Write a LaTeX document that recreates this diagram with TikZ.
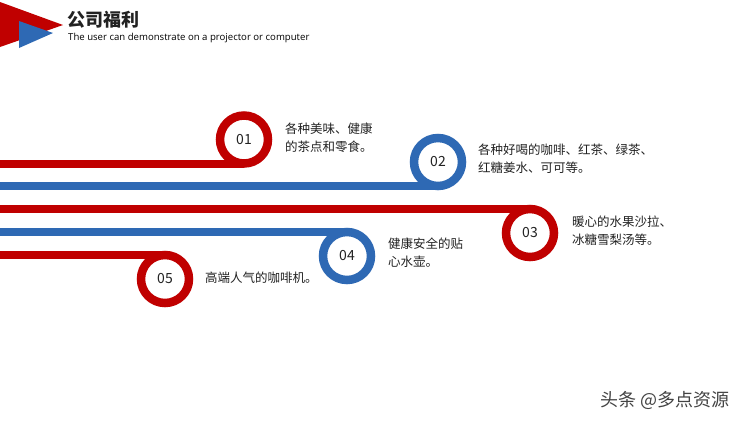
\documentclass[tikz,border=0pt]{standalone}
\usepackage{fontspec}
\newfontfamily\cjk{Noto Sans CJK SC}
\newfontfamily\latinsans{Open Sans}
\definecolor{myred}{HTML}{C00000}
\definecolor{myblue}{HTML}{2E69B4}
\definecolor{txt}{HTML}{222222}
\tikzset{
  ring/.style={circle, draw=#1, line width=8.5pt, minimum size=48pt, inner sep=0pt, outer sep=0pt, fill=white, text=txt, font={\cjk\fontsize{14}{14}\selectfont}},
  band/.style={draw=#1, line width=8pt},
  desc/.style={anchor=west, align=left, inner sep=0pt, text=txt, font={\cjk\fontsize{12.5}{18}\selectfont}}
}
\begin{document}
\begin{tikzpicture}[x=1pt,y=-1pt]
\useasboundingbox (0,0) rectangle (750,421);
% header triangles
\fill[myred] (0,2) -- (63,25) -- (0,47) -- cycle;
\fill[myblue] (19,21) -- (53,33) -- (19,48) -- cycle;
\node[anchor=west, inner sep=0pt, text=txt, font={\cjk\bfseries\fontsize{18}{18}\selectfont}] (title) at (67,20) {公司福利};
\node[anchor=west, inner sep=0pt, text=black, font={\latinsans\fontsize{9.6}{11}\selectfont}] (sub) at (68,38) {The user can demonstrate on a projector or computer};
% start coordinates
\coordinate (s1) at (0,163.5);
\coordinate (s2) at (0,186);
\coordinate (s3) at (0,209);
\coordinate (s4) at (0,232);
\coordinate (s5) at (0,255);
% bands
\draw[band=myred] (s1) -- (244,163.5);
\draw[band=myblue] (s2) -- (438,186);
\draw[band=myred] (s3) -- (530,209);
\draw[band=myblue] (s4) -- (347,232);
\draw[band=myred] (s5) -- (165,255);
% rings
\node[ring=myred] (c1) at (244,139.5) {01};
\node[ring=myblue] (c2) at (438,162) {02};
\node[ring=myred] (c3) at (530,233) {03};
\node[ring=myblue] (c4) at (347,256) {04};
\node[ring=myred] (c5) at (165,279) {05};
% descriptions
\node[desc] (d1) at (285,138) {各种美味、健康\\的茶点和零食。};
\node[desc] (d2) at (478,158.5) {各种好喝的咖啡、红茶、绿茶、\\红糖姜水、可可等。};
\node[desc] (d3) at (572,231) {暖心的水果沙拉、\\冰糖雪梨汤等。};
\node[desc] (d4) at (388,253) {健康安全的贴\\心水壶。};
\node[desc] (d5) at (205,278) {高端人气的咖啡机。};
% watermark
\node[anchor=west, inner sep=0pt, text=txt!85, font={\cjk\fontsize{18}{18}\selectfont}] (wm) at (600,400) {头条 @多点资源};
\end{tikzpicture}
\end{document}
